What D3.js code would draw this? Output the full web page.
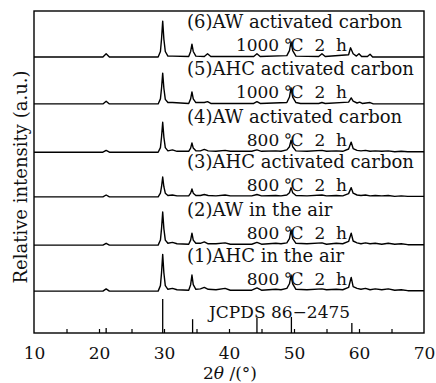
<!DOCTYPE html>
<html>
<head>
<meta charset="utf-8">
<script src="https://cdn.jsdelivr.net/npm/d3@7"></script>
<style>
  body { margin: 0; background: #fff; }
  svg text { font-family: "DejaVu Serif", serif; fill: #111; }
</style>
</head>
<body>
<svg id="chart" width="436" height="383"></svg>
<script>
// x axis ticks
var xLabels = [10, 20, 30, 40, 50, 60, 70];
var xTicks = [15, 20, 25, 30, 35, 40, 45, 50, 55, 60, 65];

// sample names, bottom (1) to top (6)
var sampleNames = ["(1)AHC in the air", "(2)AW in the air", "(3)AHC activated carbon",
                   "(4)AW activated carbon", "(5)AHC activated carbon", "(6)AW activated carbon"];
var conditions = ["800 \u2103  2  h", "800 \u2103  2  h", "800 \u2103  2  h",
                  "800 \u2103  2  h", "1000 \u2103  2  h", "1000 \u2103  2  h"];
var offsets = [91, 191, 296, 393, 498, 600];

// reference card lines [2theta, relative intensity]
var jcpds = [[21.1, 11], [29.8, 74], [34.4, 30], [44.3, 33], [49.6, 35], [58.9, 22]];

// measured patterns [2theta, intensity], each one above its own offset
var s1 = [[10,0],[20.6,0],[21.1,5],[21.6,0],[29.1,0],[29.45,12],[29.62,40],[29.8,80],[29.98,40],[30.2,12],
  [30.6,4],[31.3,6],[32,3],[33.8,2],[34.1,14],[34.3,35],[34.5,14],[34.9,4],[35.6,5],[36.2,8],[36.8,4],
  [38,3],[39.4,6],[40.2,2],[43.5,2],[44.3,7],[45,2],[47.2,4],[48,3],[48.9,6],[49.3,16],[49.55,35],
  [49.8,16],[50.3,4],[52,3],[54.3,5],[55,3],[56.5,4],[57.5,3],[58.4,8],[58.8,30],[59.1,10],[59.7,6],
  [60.3,4],[61,6],[61.7,3],[62.5,5],[63.5,3],[64.5,5],[65.5,2],[66.5,3],[67.5,1],[70,1]];
var s2 = [[10,0],[20.6,0],[21.1,4],[21.6,0],[29.1,0],[29.45,11],[29.62,36],[29.8,72],[29.98,36],[30.2,11],
  [30.6,4],[31.3,6],[32,3],[33.8,2],[34.1,11],[34.3,26],[34.5,11],[34.9,4],[35.6,4],[36.2,7],[36.8,3],
  [38,3],[39.4,5],[40.2,2],[43.5,2],[44.3,6],[45,2],[47.2,4],[48,3],[48.9,5],[49.3,14],[49.55,33],
  [49.8,14],[50.3,4],[52,3],[54.3,5],[55,2],[56.5,4],[57.5,3],[58.4,8],[58.8,26],[59.1,9],[59.7,5],
  [60.3,3],[61,5],[61.7,3],[62.5,4],[63.5,2],[64.5,4],[65.5,2],[66.5,3],[67.5,1],[70,1]];
var s3 = [[10,0],[20.6,0],[21.1,4],[21.6,0],[29.1,0],[29.45,8],[29.62,22],[29.8,43],[29.98,22],[30.2,8],
  [30.6,3],[31.3,4],[32,2],[33.8,2],[34.1,8],[34.3,17],[34.5,8],[34.9,3],[35.6,3],[36.2,5],[36.8,3],
  [38,2],[39.4,4],[40.2,2],[43.5,2],[44.3,5],[45,2],[47.2,3],[48,2],[48.9,4],[49.3,9],[49.55,20],
  [49.8,9],[50.3,3],[52,2],[54.3,4],[55,2],[56.5,3],[57.5,2],[58.4,7],[58.8,20],[59.1,8],[59.7,4],
  [60.3,3],[61,4],[61.7,2],[62.5,3],[63.5,2],[64.5,3],[65.5,1],[66.5,2],[67.5,1],[70,1]];
var s4 = [[10,0],[20.6,0],[21.1,4],[21.6,0],[29.1,0],[29.45,10],[29.62,33],[29.8,65],[29.98,33],[30.2,10],
  [30.6,3],[31.3,5],[32,2],[33.8,2],[34.1,9],[34.3,20],[34.5,9],[34.9,3],[35.6,3],[36.2,6],[36.8,3],
  [38,2],[39.4,4],[40.2,2],[43.5,2],[44.3,5],[45,2],[47.2,3],[48,2],[48.9,5],[49.3,12],[49.55,26],
  [49.8,12],[50.3,3],[52,2],[54.3,4],[55,2],[56.5,3],[57.5,2],[58.4,7],[58.8,22],[59.1,8],[59.7,4],
  [60.3,3],[61,4],[61.7,2],[62.5,3],[63.5,2],[64.5,3],[65.5,1],[66.5,2],[67.5,1],[70,1]];
var s5 = [[10,0],[20.6,0],[21.1,6],[21.6,0],[29.1,0],[29.45,11],[29.62,34],[29.8,67],[29.98,34],[30.2,10],
  [30.6,3],[31.3,3],[33.8,1],[34.1,11],[34.3,26],[34.5,11],[34.9,3],[36.2,3],[36.7,5],[37.2,1],
  [43.8,1],[44.3,5],[44.8,1],[48.9,3],[49.3,15],[49.55,35],[49.8,15],[50.3,3],[51,1],[53.8,1],[54.3,3],
  [54.8,1],[58.4,4],[58.8,13],[59.1,6],[59.7,2],[60.1,4],[60.5,1],[61.7,3],[62.2,0],[70,0]];
var s6 = [[10,0],[20.6,0],[21.1,7],[21.6,0],[29.1,0],[29.45,12],[29.62,39],[29.8,78],[29.98,39],[30.2,12],
  [30.6,2],[31.3,2],[33.8,1],[34.1,12],[34.3,28],[34.5,12],[34.9,2],[36.2,1],[36.7,7],[37.2,1],
  [43.8,1],[44.3,7],[44.8,1],[48.9,3],[49.3,14],[49.55,33],[49.8,14],[50.3,2],[53.8,1],[54.3,7],
  [54.8,1],[58.4,5],[58.7,20],[59.1,7],[59.6,2],[60,7],[60.4,1],[61.3,1],[61.7,6],[62.1,0],[70,0]];
var patterns = [s1, s2, s3, s4, s5, s6];

var svg = d3.select("#chart");
var plotLeft = 34, plotRight = 424, plotTop = 11, plotBottom = 333;

var x = d3.scaleLinear().domain([10, 70]).range([plotLeft, plotRight]);
var y = d3.scaleLinear().domain([0, 700]).range([plotBottom, plotTop]);

// patterns
var line = d3.line()
    .x(function (d) { return x(d[0]); })
    .y(function (d) { return d[1]; });

patterns.forEach(function (pts, i) {
    svg.append("path")
        .datum(pts.map(function (p) { return [p[0], y(p[1] + offsets[i])]; }))
        .attr("d", line)
        .attr("fill", "none")
        .attr("stroke", "#000")
        .attr("stroke-width", 1.4)
        .attr("stroke-linejoin", "round");
});

// JCPDS stick lines
svg.selectAll("line.card")
    .data(jcpds)
    .enter().append("line")
    .attr("class", "card")
    .attr("x1", function (d) { return x(d[0]); })
    .attr("x2", function (d) { return x(d[0]); })
    .attr("y1", y(0))
    .attr("y2", function (d) { return y(d[1]); })
    .attr("stroke", "#000")
    .attr("stroke-width", 1.3);

// labels
var labels = svg.append("g");
sampleNames.forEach(function (name, i) {
    var base = y(offsets[i]);
    labels.append("text")
        .attr("x", 187)
        .attr("y", base - 29)
        .style("font-size", "18px")
        .text(name);
    labels.append("text")
        .attr("x", 347)
        .attr("y", base - 6)
        .attr("text-anchor", "end")
        .style("font-size", "17px")
        .style("white-space", "pre")
        .attr("xml:space", "preserve")
        .text(conditions[i]);
});
labels.append("text")
    .attr("x", 209)
    .attr("y", 318)
    .style("font-size", "17px")
    .text("JCPDS 86\u22122475");

// axes
svg.append("g")
    .attr("transform", "translate(0," + plotBottom + ")")
    .call(d3.axisBottom(x).tickValues(xTicks).tickSize(-4).tickFormat(""))
    .call(function (g) { g.select(".domain").remove(); })
    .selectAll("line").attr("stroke", "#000").attr("stroke-width", 1.2);

svg.append("g")
    .attr("transform", "translate(0," + plotBottom + ")")
    .call(d3.axisBottom(x).tickValues(xLabels).tickSize(0).tickPadding(14).tickFormat(d3.format("d")))
    .call(function (g) { g.select(".domain").remove(); })
    .selectAll("text")
    .style("font-family", "DejaVu Serif, serif")
    .style("font-size", "17px")
    .attr("fill", "#111");

// frame
svg.append("rect")
    .attr("x", plotLeft)
    .attr("y", plotTop)
    .attr("width", plotRight - plotLeft)
    .attr("height", plotBottom - plotTop)
    .attr("fill", "none")
    .attr("stroke", "#000")
    .attr("stroke-width", 1.4);

// axis titles
svg.append("text")
    .attr("transform", "translate(27,177) rotate(-90)")
    .attr("text-anchor", "middle")
    .style("font-size", "18px")
    .text("Relative intensity (a.u.)");

var xt = svg.append("text")
    .attr("x", 230)
    .attr("y", 379)
    .attr("text-anchor", "middle")
    .style("font-size", "17px");
xt.append("tspan").text("2");
xt.append("tspan").style("font-style", "italic").text("\u03b8");
xt.append("tspan").text(" /(\u00b0)");
</script>
</body>
</html>
